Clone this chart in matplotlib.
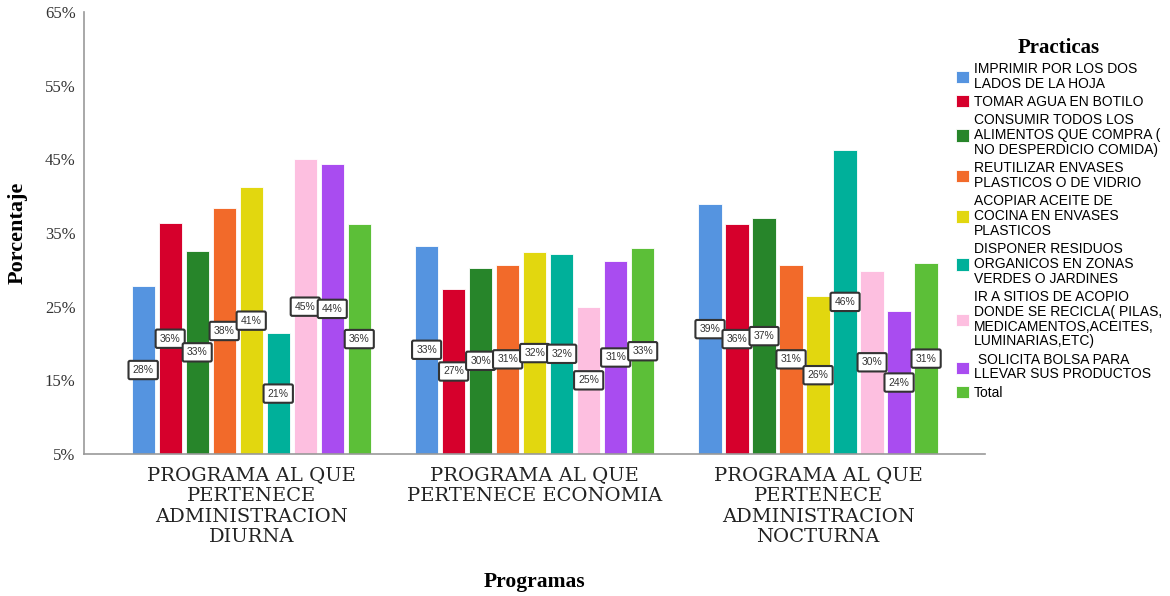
import matplotlib.pyplot as plt
import numpy as np

# === datos ===
programas = [
    "PROGRAMA AL QUE\nPERTENECE\nADMINISTRACION\nDIURNA",
    "PROGRAMA AL QUE\nPERTENECE ECONOMIA",
    "PROGRAMA AL QUE\nPERTENECE\nADMINISTRACION\nNOCTURNA",
]
practicas = [
    "IMPRIMIR POR LOS DOS\nLADOS DE LA HOJA",
    "TOMAR AGUA EN BOTILO",
    "CONSUMIR TODOS LOS\nALIMENTOS QUE COMPRA (\nNO DESPERDICIO COMIDA)",
    "REUTILIZAR ENVASES\nPLASTICOS O DE VIDRIO",
    "ACOPIAR ACEITE DE\nCOCINA EN ENVASES\nPLASTICOS",
    "DISPONER RESIDUOS\nORGANICOS EN ZONAS\nVERDES O JARDINES",
    "IR A SITIOS DE ACOPIO\nDONDE SE RECICLA( PILAS,\nMEDICAMENTOS,ACEITES,\nLUMINARIAS,ETC)",
    " SOLICITA BOLSA PARA\nLLEVAR SUS PRODUCTOS",
    "Total",
]
# porcentaje por practica: [diurna, economia, nocturna]
valores = [
    [27.8, 33.3, 38.9],
    [36.3, 27.4, 36.2],
    [32.6, 30.3, 37.0],
    [38.4, 30.7, 30.7],
    [41.2, 32.4, 26.4],
    [21.4, 32.2, 46.3],
    [45.0, 25.0, 29.9],
    [44.4, 31.2, 24.4],
    [36.2, 32.9, 30.9],
]
colores = ["#5594e0", "#d6002c", "#27852a", "#f26a2a", "#e2d70f",
           "#00b09a", "#fdbfe0", "#a94cf0", "#5cbf38"]

base = 5
fig = plt.figure(figsize=(11.7, 5.96), dpi=100)
ax = fig.add_axes([84/1170, 1 - 454/596, (985-84)/1170, (454-12)/596])

x = np.arange(len(programas))
paso = 0.0953
ancho = 0.0823
n = len(practicas)
for i, (lab, vals, col) in enumerate(zip(practicas, valores, colores)):
    pos = x + (i - (n - 1) / 2) * paso
    v = np.array(vals)
    ax.bar(pos, v - base, ancho, bottom=base, color=col, label=lab,
           edgecolor="white", linewidth=0.6)
    for px, val in zip(pos, v):
        ax.text(px, (base + val) / 2, f"{round(val):.0f}%", ha="center", va="center",
                fontsize=7.5, family="Liberation Sans", color="#333333",
                bbox=dict(boxstyle="round,pad=0.4,rounding_size=0.15", fc="white",
                          ec="#333333", lw=1.5))

ax.set_ylim(5, 65)
ax.set_xlim(-0.59, 2.589)
ax.set_yticks(np.arange(5, 66, 10))
ax.set_yticklabels([f"{t}%" for t in range(5, 66, 10)], family="Liberation Serif",
                   fontsize=12, color="#333333")
ax.set_xticks(x)
ax.set_xticklabels(programas, family="DejaVu Serif", fontsize=14,
                   linespacing=1.18, color="#222222")
ax.tick_params(length=0, pad=6)
ax.tick_params(axis="x", pad=9)
for s in ["top", "right"]:
    ax.spines[s].set_visible(False)
for s in ["left", "bottom"]:
    ax.spines[s].set_color("#999999")
    ax.spines[s].set_linewidth(1.2)

ax.set_ylabel("Porcentaje", family="Liberation Serif", fontweight="bold",
              fontsize=16, va="center")
ax.yaxis.set_label_coords(-0.074, 0.5)
ax.set_xlabel("Programas", family="Liberation Serif", fontweight="bold",
              fontsize=15.5, va="center")
ax.xaxis.set_label_coords(0.5, -0.29)

leg = fig.legend(loc="upper left", bbox_to_anchor=(950/1170, 1 - 32/596),
                 frameon=False, title="Practicas",
                 prop={"family": "Liberation Sans", "size": 10},
                 handlelength=1.0, handleheight=1.0, handletextpad=0.3,
                 labelspacing=0.3, borderaxespad=0)
leg.get_title().set_fontfamily("Liberation Serif")
leg.get_title().set_fontweight("bold")
leg.get_title().set_fontsize(15)
for t in leg.get_texts():
    t.set_linespacing(1.08)

fig.savefig("out.png", dpi=100)
